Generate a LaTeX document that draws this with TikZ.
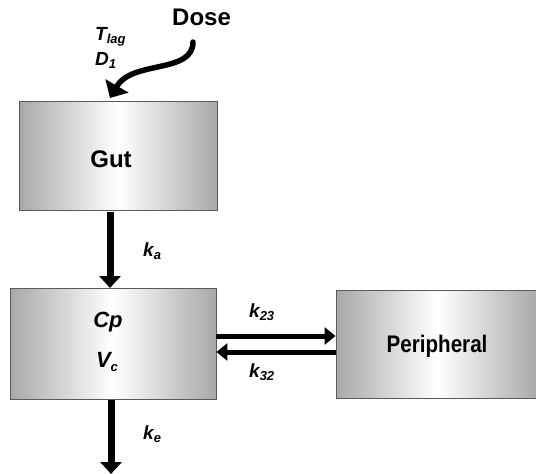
\documentclass[tikz,border=0pt]{standalone}
\usepackage{fontspec}
\setmainfont{Liberation Sans}
\newfontfamily\narrowfont{Liberation Sans}[FakeStretch=0.86]
\usetikzlibrary{arrows.meta}
\newcommand\sbs[1]{\raisebox{-0.35ex}{\fontsize{13}{13}\selectfont #1}}
\tikzset{
  x=1pt, y=-1pt,
  compbox/.style={draw=black!65, line width=0.8pt, left color=black!34, right color=black!34, middle color=white, minimum width=#1, inner sep=0pt},
  vflow/.style={line width=7pt, -{Triangle[width=21pt,length=12pt]}},
  hflow/.style={line width=5pt, -{Triangle[width=17pt,length=11pt]}},
  lab/.style={font=\fontsize{19}{19}\selectfont\bfseries\itshape, anchor=base west, inner sep=0pt},
  big/.style={font=\fontsize{24}{24}\selectfont\bfseries, inner sep=0pt},
}
\begin{document}
\begin{tikzpicture}
\useasboundingbox (0,0) rectangle (536,474);
\node[compbox=198pt, minimum height=109pt] (gut) at (118,155.5) {};
\node[big, anchor=base] (guttxt) at (111,167) {Gut};
\node[compbox=206pt, minimum height=111pt] (cp) at (113,344) {};
\node[compbox=202pt, minimum height=108pt] (per) at (437,344) {};
\node[font=\fontsize{24}{24}\selectfont\narrowfont\bfseries, anchor=base, inner sep=0pt] (pertxt) at (437,352) {Peripheral};
\node[lab, font=\fontsize{22}{22}\selectfont\bfseries\itshape, anchor=base] (cptxt) at (108,327) {Cp};
\node[lab, font=\fontsize{22}{22}\selectfont\bfseries\itshape, anchor=base] (vctxt) at (107,367) {V\sbs{c}};
\node[big, anchor=base west] (dose) at (172,25) {Dose};
\node[lab] (tlag) at (95,40) {T\sbs{lag}};
\node[lab] (d1) at (95,65) {D\sbs{1}};
\node[lab] (ka) at (143,256) {k\sbs{a}};
\node[lab] (ke) at (143,439) {k\sbs{e}};
\node[lab] (k23) at (249,317) {k\sbs{23}};
\node[lab] (k32) at (249,377) {k\sbs{32}};
\coordinate (dosestart) at (193,42);
\coordinate (doseend) at (110,98);
\coordinate (out) at (111,474);
\draw[line width=5.5pt, line cap=round, -{Triangle[width=26pt,length=14pt]}] (dosestart) .. controls (193,74) and (132,60) .. (doseend);
\draw[vflow] (110,212) -- (110,288);
\draw[vflow] (cp.south -| out) -- (out);
\draw[hflow] (cp.east |- 0,336) -- (per.west |- 0,336);
\draw[hflow] (per.west |- 0,352) -- (cp.east |- 0,352);
\end{tikzpicture}
\end{document}
